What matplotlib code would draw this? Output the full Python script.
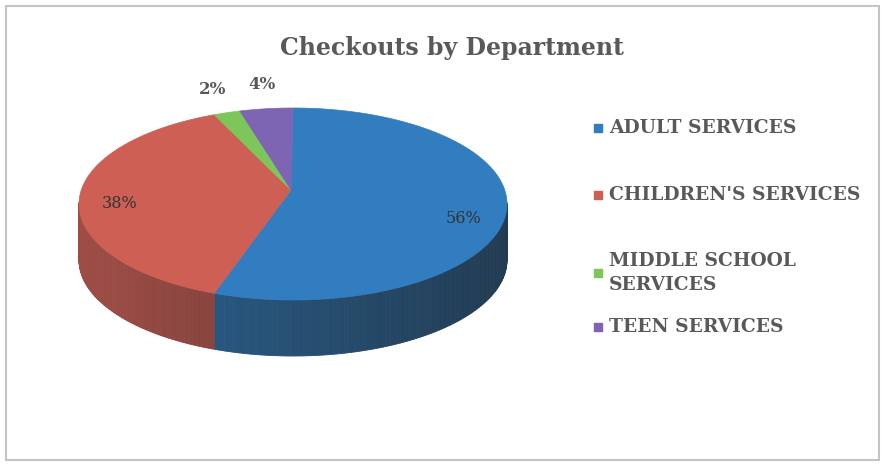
import numpy as np
import matplotlib.pyplot as plt
from matplotlib.patches import Polygon, Rectangle

departments = ['ADULT SERVICES', "CHILDREN'S SERVICES", 'MIDDLE SCHOOL\nSERVICES', 'TEEN SERVICES']
shares = [56, 38, 2, 4]
colors = ['#327dbf', '#cd5f55', '#7cc65a', '#7d65b4']

plt.rcParams['font.family'] = ['DejaVu Serif']

fig = plt.figure(figsize=(8.83, 4.66), dpi=100)
ax = fig.add_axes([0, 0, 1, 1])
ax.set_xlim(0, 883)
ax.set_ylim(466, 0)
ax.axis('off')

# chart border
ax.add_patch(Rectangle((6, 6), 873, 454, fill=False, ec='#c4c4c4', lw=1.5))

ax.text(452, 48, 'Checkouts by Department', ha='center', va='center',
        fontsize=17, fontweight='bold', color='#595959')

# 3d pie geometry (pixels); apex sits a bit higher than the ellipse centre
cx, cy, a, b, depth = 293, 204, 214, 96, 56
apex = (291, 190)


def pt(t, dy=0):
    t = np.radians(t)
    return cx + a * np.cos(t), cy - b * np.sin(t) + dy


frac = np.array(shares) / sum(shares)
cum = np.concatenate([[0], np.cumsum(frac)])
starts = 90 - 360 * cum[:-1]
ends = 90 - 360 * cum[1:]

# side wall, drawn in small segments with shading
for s, e, c in zip(starts, ends, colors):
    ts = np.linspace(s, e, 200)
    base = np.array(plt.matplotlib.colors.to_rgb(c))
    for t0, t1 in zip(ts[:-1], ts[1:]):
        tm = (t0 + t1) / 2
        if np.sin(np.radians(tm)) > 0.02:
            continue
        seg = np.linspace(t0, t1, 3)
        top = [pt(t) for t in seg]
        bot = [pt(t, depth) for t in seg[::-1]]
        k = 0.74 - 0.40 * (np.cos(np.radians(tm)) + 1) / 2
        col = np.clip(base * k + 0.10 * (1 - k), 0, 1)
        ax.add_patch(Polygon(top + bot, closed=True, fc=col, ec=col, lw=0.6))

# top faces
for s, e, c in zip(starts, ends, colors):
    ts = np.linspace(s, e, 200)
    verts = [apex] + [pt(t) for t in ts]
    ax.add_patch(Polygon(verts, closed=True, fc=c, ec=c, lw=0.5))

# percentage labels
for s, e, v, c in zip(starts, ends, shares, colors):
    tm = (s + e) / 2
    if v < 10:
        x, y = cx + 1.24 * a * np.cos(np.radians(tm)), cy - 1.22 * b * np.sin(np.radians(tm))
        ax.text(x + 2, y - 3, f'{v}%', ha='center', va='center', fontsize=12,
                fontweight='bold', color='#595959')
    else:
        x, y = cx + 0.81 * a * np.cos(np.radians(tm)), cy - 0.81 * b * np.sin(np.radians(tm))
        ax.text(x, y, f'{v}%', ha='center', va='center', fontsize=11.5,
                color='#333333')

# legend
leg_y = [128, 195, 273, 327]
for name, c, y in zip(departments, colors, leg_y):
    ax.scatter([598], [y], marker='s', s=30, color=c)
    ax.text(609, y, name, ha='left', va='center', fontsize=13.4,
            fontweight='bold', color='#595959', linespacing=1.5)

fig.savefig('out.png', dpi=100)
